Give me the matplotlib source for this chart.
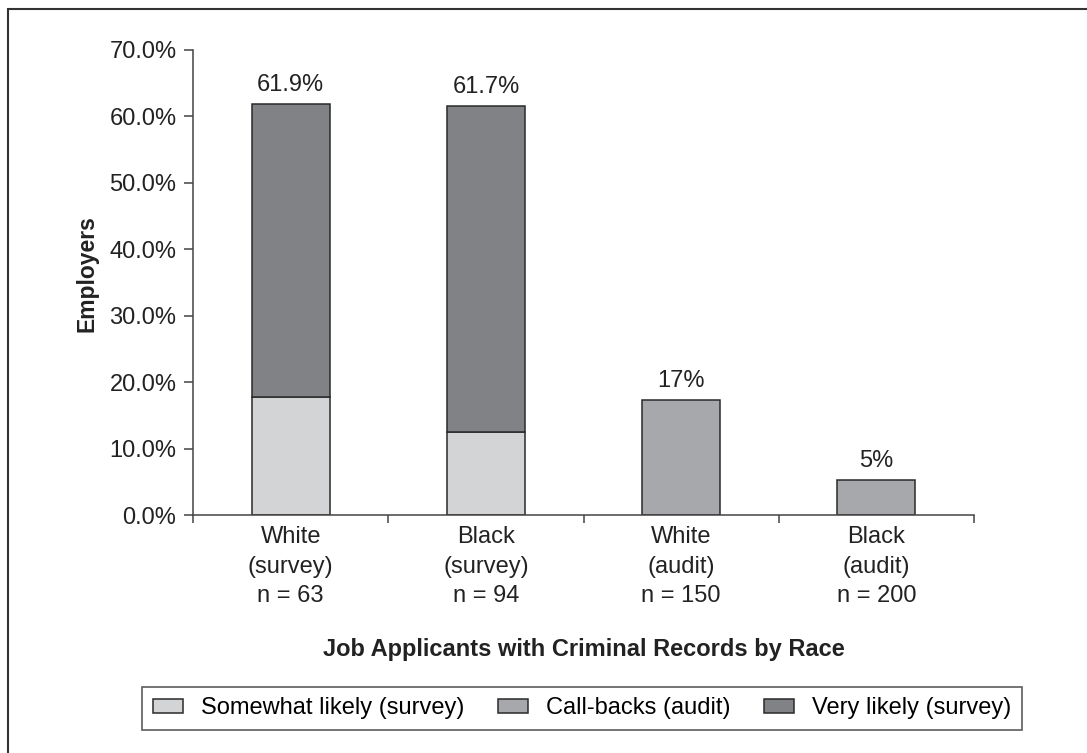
import matplotlib
matplotlib.use("Agg")
import matplotlib.pyplot as plt
from matplotlib.patches import Rectangle
import numpy as np

plt.rcParams['font.family'] = ['Liberation Sans', 'DejaVu Sans']

# data
categories = ["White\n(survey)\nn = 63", "Black\n(survey)\nn = 94",
              "White\n(audit)\nn = 150", "Black\n(audit)\nn = 200"]
somewhat_likely = [17.8, 12.5, 0, 0]
call_backs = [0, 0, 17.3, 5.3]
very_likely = [44.0, 49.0, 0, 0]
top_labels = ["61.9%", "61.7%", "17%", "5%"]

c_light = "#d3d4d6"
c_mid = "#a7a8ab"
c_dark = "#818285"
edge = "#2a2a2a"
txt = "#222222"
fs = 17

fig = plt.figure(figsize=(10.87, 7.53), dpi=100)
ax = fig.add_axes([0.1776, 0.316, 0.7185, 0.618])

x = np.arange(len(categories))
w = 0.4
somewhat = np.array(somewhat_likely)
calls = np.array(call_backs)
very = np.array(very_likely)

b1 = ax.bar(x, somewhat, w, color=c_light, edgecolor=edge, linewidth=1.1,
            label="Somewhat likely (survey)")
b2 = ax.bar(x, calls, w, bottom=somewhat, color=c_mid, edgecolor=edge, linewidth=1.1,
            label="Call-backs (audit)")
b3 = ax.bar(x, very, w, bottom=somewhat + calls, color=c_dark, edgecolor=edge, linewidth=1.1,
            label="Very likely (survey)")
# hide zero-height bars so they don't draw a line on the axis
for bars, vals in ((b1, somewhat), (b2, calls), (b3, very)):
    for b, v in zip(bars, vals):
        if v == 0:
            b.set_visible(False)

totals = somewhat + calls + very
for xi, t, lab in zip(x, totals, top_labels):
    ax.annotate(lab, (xi, t), xytext=(0, 9.4), textcoords='offset points',
                ha='center', va='baseline', fontsize=fs, color=txt)

ax.set_xlim(-0.5, 3.5)
ax.set_ylim(0, 70)
ax.set_yticks(np.arange(0, 71, 10))
ax.set_yticklabels(["%.1f%%" % v for v in np.arange(0, 71, 10)], fontsize=fs, color=txt)
ax.set_xticks(x)
ax.set_xticklabels(categories, fontsize=fs, color=txt, linespacing=1.45)
ax.set_xticks(np.arange(-0.5, 3.6, 1), minor=True)
ax.tick_params(axis='x', which='major', length=0, pad=8)
ax.tick_params(axis='x', which='minor', length=6, width=1.1, color="#444444")
ax.tick_params(axis='y', length=6.5, width=1.1, color="#444444", pad=5.5)

for s in ("top", "right"):
    ax.spines[s].set_visible(False)
for s in ("left", "bottom"):
    ax.spines[s].set_color("#444444")
    ax.spines[s].set_linewidth(1.1)

ax.set_ylabel("Employers", fontsize=16.5, fontweight='bold', color=txt)
ax.yaxis.set_label_coords(-0.121, 0.52)
ax.set_xlabel("Job Applicants with Criminal Records by Race", fontsize=fs,
              fontweight='bold', labelpad=22, color=txt)

leg = fig.legend(handles=[b1, b2, b3], loc='center', bbox_to_anchor=(0.5354, 0.0591),
                 ncol=3, fontsize=fs, frameon=True, fancybox=False,
                 handlelength=1.3, handleheight=0.55, handletextpad=0.75,
                 columnspacing=1.4, borderpad=0.45, borderaxespad=0)
leg.get_frame().set_edgecolor("#333333")
leg.get_frame().set_linewidth(1.2)
for h in leg.legend_handles:
    h.set_visible(True)

# outer frame (only left and top edges show in the reference)
fig.patches.append(Rectangle((8 / 1087, -0.1), 1.2, 1 - 9 / 753 + 0.1,
                             transform=fig.transFigure, fill=False,
                             edgecolor="#333333", linewidth=1.5))

fig.savefig("out.png", dpi=100)
